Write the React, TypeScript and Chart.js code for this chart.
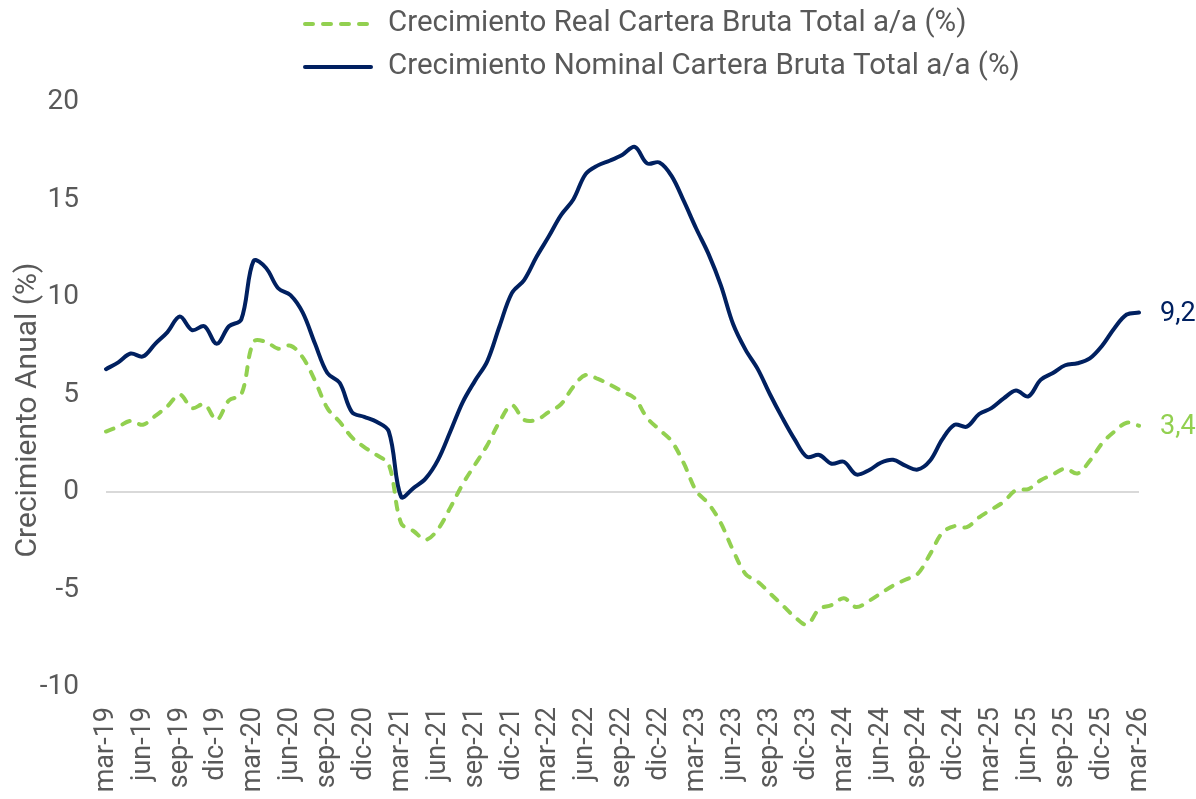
import React, { useEffect, useRef } from "react";
import { Chart, registerables } from "chart.js";

Chart.register(...registerables);

const MONTHS = ["ene", "feb", "mar", "abr", "may", "jun", "jul", "ago", "sep", "oct", "nov", "dic"];

// Monthly labels mar-19 .. mar-26
const labels: string[] = [];
for (let y = 19; y <= 26; y++) {
  for (let m = 0; m < 12; m++) {
    if (y === 19 && m < 2) continue;
    if (y === 26 && m > 2) continue;
    labels.push(`${MONTHS[m]}-${y}`);
  }
}

const nominalLabel = "Crecimiento Nominal Cartera Bruta Total a/a (%)";
const realLabel = "Crecimiento Real Cartera Bruta Total a/a (%)";
const yTitle = "Crecimiento Anual (%)";

const nominal = [
  6.3, 6.65, 7.1, 6.95, 7.6, 8.2, 9.0, 8.3, 8.5, 7.6,
  8.5, 8.85, 11.85, 11.5, 10.45, 10.1, 9.2, 7.6, 6.1, 5.6,
  4.1, 3.85, 3.6, 3.1, -0.25, 0.2, 0.7, 1.65, 3.1, 4.6,
  5.7, 6.7, 8.5, 10.2, 10.87, 12.05, 13.1, 14.2, 15.0, 16.3,
  16.75, 17.0, 17.3, 17.7, 16.85, 16.9, 16.2, 14.9, 13.5, 12.2,
  10.6, 8.6, 7.3, 6.3, 5.0, 3.8, 2.7, 1.8, 1.9, 1.45,
  1.55, 0.9, 1.1, 1.5, 1.65, 1.35, 1.15, 1.6, 2.7, 3.45,
  3.35, 4.0, 4.3, 4.8, 5.2, 4.9, 5.75, 6.1, 6.5, 6.6,
  6.85, 7.5, 8.4, 9.1, 9.2,
];

const real = [
  3.1, 3.35, 3.65, 3.45, 3.9, 4.4, 5.0, 4.3, 4.5, 3.7,
  4.7, 5.0, 7.7, 7.7, 7.35, 7.5, 6.9, 5.7, 4.3, 3.6,
  2.8, 2.3, 1.9, 1.4, -1.6, -2.0, -2.45, -1.9, -0.8, 0.4,
  1.4, 2.4, 3.6, 4.45, 3.7, 3.7, 4.1, 4.5, 5.4, 6.0,
  5.8, 5.5, 5.15, 4.8, 3.8, 3.2, 2.6, 1.45, 0.05, -0.6,
  -1.6, -3.0, -4.2, -4.6, -5.2, -5.8, -6.4, -6.8, -6.0, -5.8,
  -5.45, -5.9, -5.6, -5.2, -4.8, -4.5, -4.2, -3.2, -2.1, -1.75,
  -1.8, -1.3, -0.9, -0.5, 0.1, 0.15, 0.6, 0.9, 1.2, 0.95,
  1.6, 2.5, 3.1, 3.55, 3.4,
];

const endLabels = ["9,2", "3,4"];

const NAVY = "#002060";
const GREEN = "#92D050";
const TEXT = "#595959";
const FONT = "Roboto";

const customLegend = {
  id: "customLegend",
  afterDraw(chart: any) {
    const ctx = chart.ctx;
    const items = [
      { text: realLabel, color: GREEN, dash: [8, 10], y: 24 },
      { text: nominalLabel, color: NAVY, dash: [], y: 67 },
    ];
    ctx.save();
    for (const it of items) {
      ctx.beginPath();
      ctx.strokeStyle = it.color;
      ctx.lineWidth = 4;
      ctx.lineCap = "round";
      ctx.setLineDash(it.dash);
      ctx.moveTo(305, it.y);
      ctx.lineTo(371, it.y);
      ctx.stroke();
      ctx.setLineDash([]);
      ctx.fillStyle = TEXT;
      ctx.font = `29.5px ${FONT}`;
      ctx.textBaseline = "middle";
      ctx.textAlign = "left";
      ctx.fillText(it.text, 388, it.y);
    }
    ctx.restore();
  },
};

const yTitlePlugin = {
  id: "yTitle",
  afterDraw(chart: any) {
    const ctx = chart.ctx;
    ctx.save();
    ctx.translate(28, 410);
    ctx.rotate(-Math.PI / 2);
    ctx.fillStyle = TEXT;
    ctx.font = `30px ${FONT}`;
    ctx.textAlign = "center";
    ctx.textBaseline = "middle";
    ctx.fillText(yTitle, 0, 0);
    ctx.restore();
  },
};

const endLabelPlugin = {
  id: "endLabels",
  afterDatasetsDraw(chart: any) {
    const ctx = chart.ctx;
    ctx.save();
    ctx.font = `27px ${FONT}`;
    ctx.textBaseline = "middle";
    ctx.textAlign = "left";
    chart.data.datasets.forEach((ds: any, i: number) => {
      const meta = chart.getDatasetMeta(i);
      const pt = meta.data[meta.data.length - 1];
      ctx.fillStyle = ds.borderColor;
      ctx.fillText(endLabels[i], pt.x + 21, pt.y + 2);
    });
    ctx.restore();
  },
};

export default function App() {
  const canvasRef = useRef<HTMLCanvasElement>(null);

  useEffect(() => {
    if (!canvasRef.current) return;
    Chart.defaults.font.family = FONT;
    Chart.defaults.color = TEXT;
    const chart = new Chart(canvasRef.current, {
      type: "line",
      data: {
        labels,
        datasets: [
          {
            label: nominalLabel,
            data: nominal,
            borderColor: NAVY,
            backgroundColor: NAVY,
            borderWidth: 4,
            pointRadius: 0,
            tension: 0.35,
            borderCapStyle: "round",
            borderJoinStyle: "round",
          },
          {
            label: realLabel,
            data: real,
            borderColor: GREEN,
            backgroundColor: GREEN,
            borderWidth: 4,
            borderDash: [8, 10],
            borderCapStyle: "round",
            pointRadius: 0,
            tension: 0.35,
          },
        ],
      },
      options: {
        animation: false,
        responsive: true,
        maintainAspectRatio: false,
        layout: { padding: { top: 102, right: 57, left: 0, bottom: 0 } },
        plugins: {
          legend: { display: false },
          tooltip: { enabled: false },
        },
        scales: {
          x: {
            type: "category",
            offset: false,
            grid: { display: false, drawTicks: false },
            border: { display: false },
            afterFit: (scale: any) => {
              scale.height = 112;
            },
            ticks: {
              autoSkip: false,
              maxRotation: 90,
              minRotation: 90,
              padding: 20,
              color: TEXT,
              font: { size: 27, family: FONT },
              callback: (_v: any, idx: number) => (idx % 3 === 0 ? labels[idx] : ""),
            },
          },
          y: {
            min: -10,
            max: 20,
            grid: {
              drawTicks: false,
              lineWidth: 2,
              color: (c: any) => (c.tick && c.tick.value === 0 ? "#d9d9d9" : "rgba(0,0,0,0)"),
            },
            border: { display: false },
            afterFit: (scale: any) => {
              scale.width = 106;
            },
            ticks: {
              stepSize: 5,
              padding: 27,
              color: TEXT,
              font: { size: 28, family: FONT },
            },
            title: { display: false, text: yTitle },
          },
        },
      },
      plugins: [customLegend, yTitlePlugin, endLabelPlugin],
    });
    return () => chart.destroy();
  }, []);

  return (
    <div style={{ position: "fixed", left: 0, top: 0, width: 1196, height: 799, background: "#fff" }}>
      <canvas ref={canvasRef} />
    </div>
  );
}
